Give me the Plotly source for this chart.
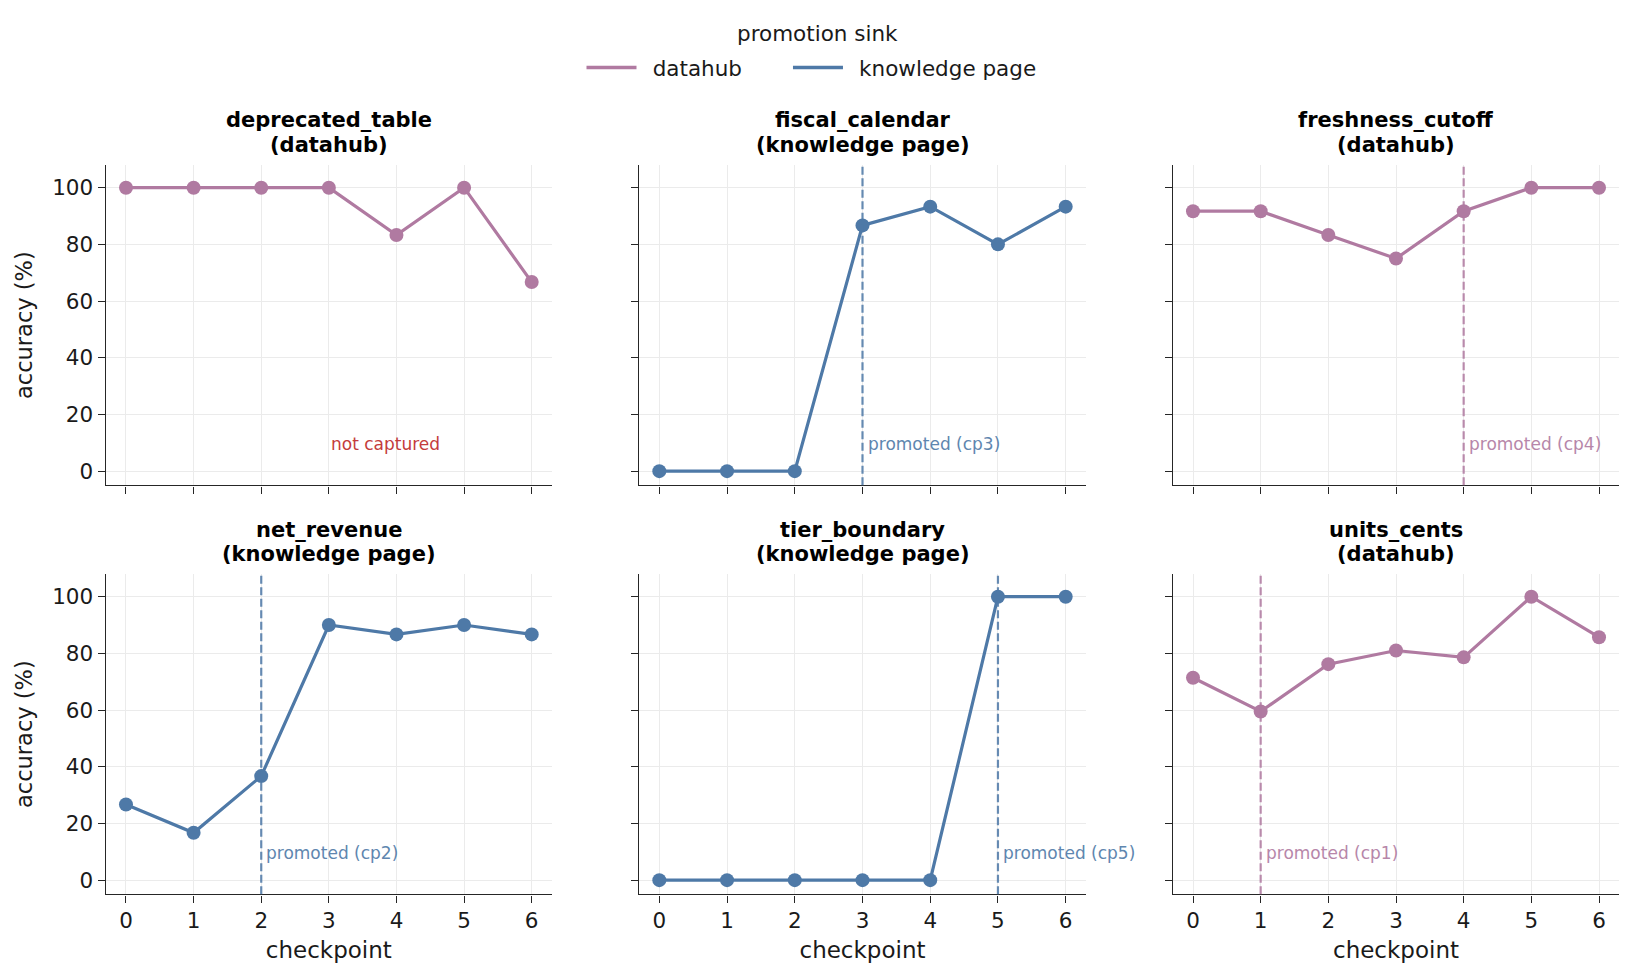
import plotly.graph_objects as go
from plotly.subplots import make_subplots

# ---- data ----
checkpoints = [0, 1, 2, 3, 4, 5, 6]
panels = ["deprecated_table", "fiscal_calendar", "freshness_cutoff",
          "net_revenue", "tier_boundary", "units_cents"]
sinks = ["datahub", "knowledge page", "datahub",
         "knowledge page", "knowledge page", "datahub"]
promoted_cp = [None, 3, 4, 2, 5, 1]

acc_deprecated_table = [100, 100, 100, 100, 83.3, 100, 66.7]
acc_fiscal_calendar = [0, 0, 0, 86.7, 93.3, 80, 93.3]
acc_freshness_cutoff = [91.7, 91.7, 83.3, 75, 91.7, 100, 100]
acc_net_revenue = [26.7, 16.7, 36.7, 90, 86.7, 90, 86.7]
acc_tier_boundary = [0, 0, 0, 0, 0, 100, 100]
acc_units_cents = [71.4, 59.5, 76.2, 81.0, 78.6, 100, 85.7]
accuracies = [acc_deprecated_table, acc_fiscal_calendar, acc_freshness_cutoff,
              acc_net_revenue, acc_tier_boundary, acc_units_cents]

y_ticks = [0, 20, 40, 60, 80, 100]
legend_order = ["datahub", "knowledge page"]

# ---- style ----
W, H = 1634, 979
FONT = "DejaVu Sans"
colors = {"datahub": "#b07aa1", "knowledge page": "#4e79a7"}
not_captured_color = "#c43c3c"
axis_color = "#262626"
grid_color = "#ebebeb"
txt_color = "#1a1a1a"
NB = "\u00a0"
THIN = "\u2009"

# domains in pixels (left, right) and (top, bottom)
col_px = [(105.7, 552.0), (639.0, 1086.0), (1172.7, 1619.3)]
row_px = [(165.0, 485.3), (574.0, 894.3)]

fig = make_subplots(rows=2, cols=3)

for i, name in enumerate(panels):
    r, c = i // 3, i % 3
    col = colors[sinks[i]]
    fig.add_trace(go.Scatter(
        x=checkpoints, y=accuracies[i], mode="lines+markers",
        line=dict(color=col, width=3.2),
        marker=dict(color=col, size=14),
        showlegend=False, hoverinfo="skip"),
        row=r + 1, col=c + 1)

# legend-only traces
for j, sink in enumerate(legend_order):
    label = NB + THIN + sink + (NB * 6 if j < len(legend_order) - 1 else "")
    fig.add_trace(go.Scatter(
        x=[None], y=[None], mode="lines", name=label,
        line=dict(color=colors[sink], width=3.5), showlegend=True),
        row=1, col=1)

annotations = []
shapes = []
for i, name in enumerate(panels):
    r, c = i // 3, i % 3
    k = i + 1
    xs = "" if k == 1 else str(k)
    x0p, x1p = col_px[c]
    t0p, b0p = row_px[r]
    xdom = [x0p / W, x1p / W]
    ydom = [1 - b0p / H, 1 - t0p / H]
    fig.layout["xaxis" + xs].update(
        domain=xdom, range=[-0.3, 6.3], tickmode="array", tickvals=checkpoints,
        showticklabels=(r == 1), showline=True, linecolor=axis_color, linewidth=1.4,
        ticks="outside", ticklen=7, tickwidth=1.4, tickcolor=axis_color,
        showgrid=True, gridcolor=grid_color, gridwidth=1, zeroline=False,
        tickfont=dict(size=21.5, color=txt_color, family=FONT),
        title=dict(text="checkpoint" if r == 1 else "", standoff=9,
                   font=dict(size=23, color=txt_color, family=FONT)))
    fig.layout["yaxis" + xs].update(
        domain=ydom, range=[-5, 108], tickmode="array", tickvals=y_ticks,
        showticklabels=(c == 0), showline=True, linecolor=axis_color, linewidth=1.4,
        ticks="outside", ticklen=7, tickwidth=1.4, tickcolor=axis_color,
        showgrid=True, gridcolor=grid_color, gridwidth=1, zeroline=False,
        tickfont=dict(size=21.5, color=txt_color, family=FONT),
        title=dict(text="accuracy (%)" if c == 0 else "", standoff=13,
                   font=dict(size=22.5, color=txt_color, family=FONT)))

    # subplot title (two lines, matplotlib-like line spacing)
    xc = (xdom[0] + xdom[1]) / 2
    for txt, shift in [(name, 44.5), (f"({sinks[i]})", 20)]:
        annotations.append(dict(
            text=f"<b>{txt}</b>", x=xc, y=ydom[1], xref="paper", yref="paper",
            xanchor="center", yanchor="middle", yshift=shift, showarrow=False,
            font=dict(size=21, color="#000000", family=FONT)))

    col = colors[sinks[i]]
    cp = promoted_cp[i]
    if cp is None:
        annotations.append(dict(
            text="not captured", x=3, y=9.5, xref="x" + xs, yref="y" + xs,
            xanchor="left", yanchor="middle", showarrow=False,
            font=dict(size=17, color=not_captured_color, family=FONT)))
    else:
        shapes.append(dict(
            type="line", x0=cp, x1=cp, y0=0, y1=1, xref="x" + xs,
            yref="y" + xs + " domain", opacity=0.85,
            line=dict(color=col, width=2.2, dash="8px,3.5px")))
        annotations.append(dict(
            text=f"promoted (cp{cp})", x=cp, y=9.5, xref="x" + xs, yref="y" + xs,
            xanchor="left", yanchor="middle", xshift=3, showarrow=False,
            opacity=0.9,
            font=dict(size=17, color=col, family=FONT)))

# legend title as text above the legend row
annotations.append(dict(
    text="promotion sink", x=0.5, y=1 - 33.5 / H, xref="paper", yref="paper",
    xanchor="center", yanchor="middle", showarrow=False,
    font=dict(size=21.5, color=txt_color, family=FONT)))

fig.update_layout(
    width=W, height=H,
    margin=dict(l=0, r=0, t=0, b=0),
    paper_bgcolor="white", plot_bgcolor="white",
    font=dict(family=FONT, color=txt_color),
    annotations=annotations, shapes=shapes,
    legend=dict(
        orientation="h", x=0.5 - 5.5 / W, xanchor="center", y=1 - 47 / H,
        yanchor="top",
        font=dict(size=21.5, color=txt_color, family=FONT),
        itemwidth=50, tracegroupgap=0,
        bgcolor="rgba(0,0,0,0)"),
)

fig.write_html("out.html")
